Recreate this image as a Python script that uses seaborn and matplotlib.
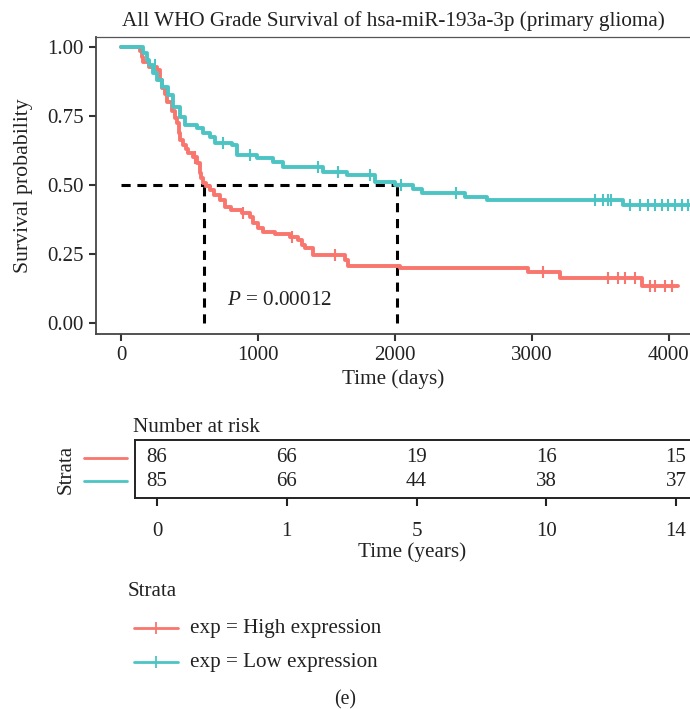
import matplotlib
matplotlib.use("Agg")
import matplotlib.pyplot as plt
import seaborn as sns
import numpy as np
import pandas as pd
from matplotlib.lines import Line2D

# ---------------- data ----------------
high_time = [0, 135, 150, 160, 200, 260, 282, 296, 315, 333, 369, 390, 406, 420, 428, 450,
             470, 486, 520, 552, 574, 585, 596, 620, 647, 680, 720, 757, 800, 880, 940, 962,
             1000, 1035, 1123, 1232, 1290, 1320, 1342, 1400, 1634, 1656, 2040, 2975, 3207,
             3806, 4069]
high_surv = [1.0, 0.988, 0.965, 0.947, 0.93, 0.917, 0.88, 0.852, 0.83, 0.80, 0.77, 0.745,
             0.725, 0.69, 0.663, 0.645, 0.63, 0.616, 0.60, 0.58, 0.544, 0.525, 0.508, 0.495,
             0.482, 0.464, 0.446, 0.42, 0.41, 0.398, 0.384, 0.363, 0.345, 0.329, 0.322, 0.311,
             0.30, 0.283, 0.271, 0.246, 0.228, 0.205, 0.197, 0.185, 0.162, 0.133, 0.133]
high_cens_time = [537, 889, 1247, 1561, 3082, 3558, 3631, 3683, 3756, 3865, 3901, 3974, 4025]
high_cens_surv = [0.60, 0.398, 0.311, 0.246, 0.185, 0.162, 0.162, 0.162, 0.162,
                  0.133, 0.133, 0.133, 0.133]

low_time = [0, 157, 186, 205, 230, 260, 296, 340, 377, 428, 464, 552, 596, 647, 684, 808,
            845, 991, 1108, 1181, 1473, 1649, 1853, 2000, 2132, 2197, 2512, 2673, 3667, 4200]
low_surv = [1.0, 0.979, 0.954, 0.935, 0.907, 0.88, 0.856, 0.827, 0.783, 0.747, 0.718, 0.707,
            0.69, 0.674, 0.652, 0.645, 0.609, 0.598, 0.584, 0.565, 0.547, 0.536, 0.511, 0.50,
            0.485, 0.471, 0.456, 0.445, 0.427, 0.427]
low_cens_time = [245, 742, 940, 1437, 1583, 1817, 2044, 2446, 3463, 3521, 3558, 3580,
                 3719, 3792, 3850, 3901, 3953, 3997, 4048, 4099, 4143]
low_cens_surv = [0.935, 0.652, 0.609, 0.565, 0.547, 0.536, 0.50, 0.471, 0.445, 0.445, 0.445,
                 0.445, 0.427, 0.427, 0.427, 0.427, 0.427, 0.427, 0.427, 0.427, 0.427]

median_high = 604
median_low = 2015
p_text = "= 0.00012"

risk_labels = ["0", "1", "5", "10", "14"]
risk_high = [86, 66, 19, 16, 15]
risk_low = [85, 66, 44, 38, 37]

strata = ["exp = High expression", "exp = Low expression"]
colors = ["#F8766D", "#4CC4C4"]

# ---------------- style ----------------
sns.set_theme(style="white")
plt.rcParams['font.family'] = ['Liberation Serif', 'DejaVu Serif']
plt.rcParams['mathtext.fontset'] = 'custom'
plt.rcParams['mathtext.rm'] = 'Liberation Serif'
plt.rcParams['mathtext.it'] = 'Liberation Serif:italic'
TXT = "#222222"
FS = 15.2     # general text
FT = 15.0     # tick / numbers

W, H = 690, 709
fig = plt.figure(figsize=(W / 100, H / 100), dpi=100)

# ---------------- main survival plot ----------------
ax = fig.add_axes([96 / W, 1 - 334 / H, 1 - 96 / W, (334 - 36.7) / H])

curves = pd.concat([
    pd.DataFrame({"time": high_time, "surv": high_surv, "strata": strata[0]}),
    pd.DataFrame({"time": low_time, "surv": low_surv, "strata": strata[1]}),
])
cens = pd.concat([
    pd.DataFrame({"time": high_cens_time, "surv": high_cens_surv, "strata": strata[0]}),
    pd.DataFrame({"time": low_cens_time, "surv": low_cens_surv, "strata": strata[1]}),
])
pal = dict(zip(strata, colors))

# median dashed guides
dash = (0, (3, 2.2))
ax.plot([0, median_low], [0.5, 0.5], ls=dash, color="black", lw=2.2, zorder=1)
ax.plot([median_high, median_high], [0, 0.5], ls=dash, color="black", lw=2.2, zorder=1)
ax.plot([median_low, median_low], [0, 0.5], ls=dash, color="black", lw=2.2, zorder=1)

sns.lineplot(data=curves, x="time", y="surv", hue="strata", palette=pal, estimator=None,
             sort=False, drawstyle="steps-post", lw=2.8, legend=False, ax=ax, zorder=2)
sns.scatterplot(data=cens, x="time", y="surv", hue="strata", palette=pal, marker="|",
                s=80, linewidth=1.5, legend=False, ax=ax, zorder=3)

ax.text(1153, 0.082, "$P$ " + p_text, fontsize=FS, ha="center", va="center", color=TXT)

ax.set_xlim(-186, 4157)
ax.set_ylim(-0.041, 1.0385)
ax.set_xticks([0, 1000, 2000, 3000, 4000])
ax.set_yticks([0, 0.25, 0.5, 0.75, 1.0])
ax.set_yticklabels(["0.00", "0.25", "0.50", "0.75", "1.00"])
ax.tick_params(axis="both", length=5, width=1.5, color="#333333", labelsize=FT,
               labelcolor=TXT, pad=4, left=True, bottom=True)
ax.set_xlabel("Time (days)", fontsize=FS, color=TXT, labelpad=3)
ax.set_ylabel("Survival probability", fontsize=FS + 0.5, color=TXT, labelpad=10)
ax.set_title("All WHO Grade Survival of hsa-miR-193a-3p (primary glioma)", fontsize=FS,
             color=TXT, pad=8)
for s in ["left", "bottom"]:
    ax.spines[s].set_color("#444444")
    ax.spines[s].set_linewidth(1.3)
ax.spines["top"].set_color("#555555")
ax.spines["top"].set_linewidth(0.9)
ax.spines["right"].set_visible(False)

# ---------------- risk table ----------------
tab = fig.add_axes([135 / W, 1 - 498 / H, 1 - 135 / W, 58 / H])
pos = list(range(len(risk_labels)))
for i, p in enumerate(pos):
    tab.text(p, 1, str(risk_high[i]), ha="center", va="center", fontsize=FT, color=TXT)
    tab.text(p, 0, str(risk_low[i]), ha="center", va="center", fontsize=FT, color=TXT)
tab.set_xlim(-0.17, 4.108)
tab.set_ylim(-0.738, 1.78)
tab.set_xticks(pos)
tab.set_xticklabels(risk_labels)
tab.set_yticks([])
tab.tick_params(axis="x", length=6, width=1.5, color="#222222", labelsize=FT,
                labelcolor=TXT, pad=11, bottom=True)
tab.set_xlabel("Time (years)", fontsize=FS, color=TXT, labelpad=1)
tab.set_ylabel("Strata", fontsize=FS, color=TXT, labelpad=43)
for s in ["left", "bottom", "top"]:
    tab.spines[s].set_color("#222222")
    tab.spines[s].set_linewidth(1.4)
tab.spines["right"].set_visible(False)
fig.text(133 / W, 1 - 428 / H, "Number at risk", fontsize=FS, ha="left", va="center",
         color=TXT)
for yy, c in zip([458, 481], colors):
    fig.add_artist(Line2D([84 / W, 127 / W], [1 - yy / H] * 2, color=c, lw=2,
                          transform=fig.transFigure))

# ---------------- legend ----------------
fig.text(128 / W, 1 - 592 / H, "Strata", fontsize=FS, ha="left", va="center", color=TXT)
for yy, c, lab in zip([628, 662], colors, strata):
    fig.add_artist(Line2D([134 / W, 178 / W], [1 - yy / H] * 2, color=c, lw=2,
                          transform=fig.transFigure))
    fig.add_artist(Line2D([156 / W], [1 - yy / H], color=c, marker="|", ms=9, mew=1.3,
                          transform=fig.transFigure))
    fig.text(190 / W, 1 - yy / H, lab, fontsize=FS, ha="left", va="center", color=TXT)

fig.text(345 / W, 1 - 700 / H, "(e)", fontsize=FS - 1, ha="center", va="center", color=TXT)

fig.savefig("out.png", dpi=100)
